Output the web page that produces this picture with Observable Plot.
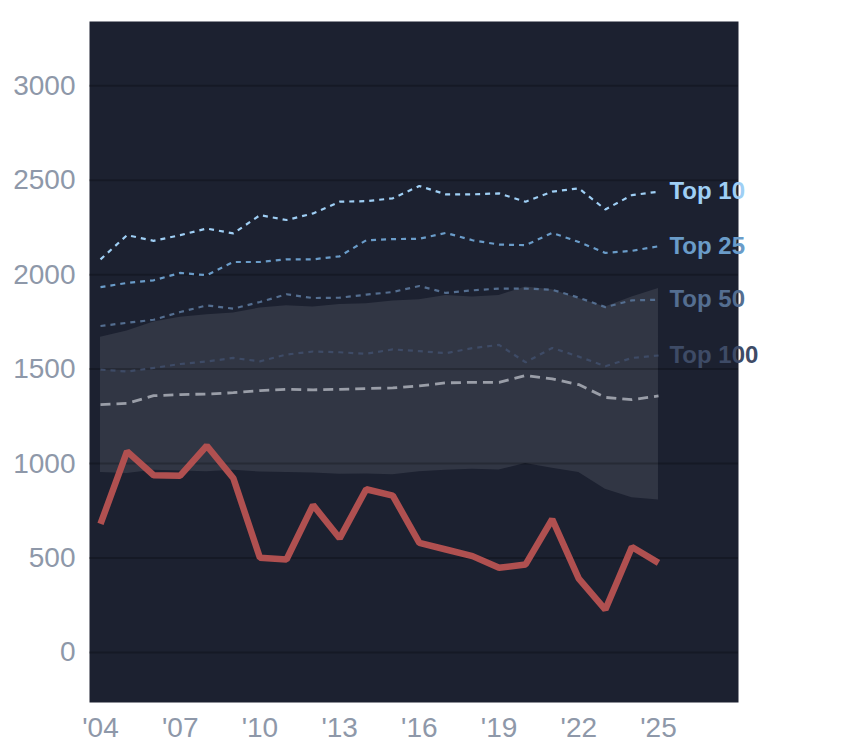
<!DOCTYPE html>
<html><head><meta charset="utf-8">
<script src="https://cdn.jsdelivr.net/npm/d3@7"></script>
<script src="https://cdn.jsdelivr.net/npm/@observablehq/plot@0.6"></script>
<style>body{margin:0;background:#fff}</style>
</head><body><div id="chart"></div>
<script>
const years = [2004,2005,2006,2007,2008,2009,2010,2011,2012,2013,2014,2015,2016,2017,2018,2019,2020,2021,2022,2023,2024,2025];
const flagship = [680,1064,938,936,1094,922,501,492,780,604,864,830,580,545,510,448,466,705,391,227,558,474];
const bandLow  = [952,947,965,961,957,965,955,952,950,943,945,940,957,965,970,966,1000,975,952,864,819,807];
const bandHigh = [1669,1701,1749,1775,1788,1797,1823,1835,1828,1842,1846,1860,1867,1890,1881,1890,1934,1920,1873,1828,1881,1926];
const top10  = [2081,2209,2179,2209,2244,2218,2315,2289,2324,2386,2389,2404,2469,2425,2425,2430,2386,2439,2457,2345,2421,2439];
const top25  = [1934,1956,1970,2009,1997,2067,2067,2081,2081,2097,2182,2188,2190,2221,2182,2159,2156,2221,2173,2115,2126,2150];
const top50  = [1728,1745,1761,1802,1837,1820,1855,1896,1876,1878,1894,1908,1940,1903,1917,1926,1926,1920,1878,1828,1864,1867];
const top100 = [1497,1487,1506,1527,1540,1559,1541,1577,1593,1589,1581,1604,1595,1584,1611,1628,1536,1612,1566,1515,1559,1572];
const median = [1312,1319,1359,1365,1368,1375,1386,1393,1390,1393,1397,1400,1411,1427,1430,1430,1466,1448,1418,1350,1338,1358];
const seriesNames = ["Top 10","Top 25","Top 50","Top 100"];
const seriesColors = ["#9fcff5","#6a9cc9","#546e90","#3e4b66"];
const yTicks = [0,500,1000,1500,2000,2500,3000];
const xTicks = [2004,2007,2010,2013,2016,2019,2022,2025];

const seriesValues = [top10, top25, top50, top100];
const band = years.map((y,i)=>({year:y, lo:bandLow[i], hi:bandHigh[i]}));
const red = years.map((y,i)=>({year:y, v:flagship[i]}));
const med = years.map((y,i)=>({year:y, v:median[i]}));
const series = seriesNames.map((name,k)=>years.map((y,i)=>({year:y, v:seriesValues[k][i], name})));
const ends = seriesNames.map((name,k)=>({year:years[years.length-1], v:seriesValues[k][years.length-1], name, color:seriesColors[k]}));

const chart = Plot.plot({
  width: 844,
  height: 748,
  marginTop: 21,
  marginBottom: 46,
  marginLeft: 89,
  marginRight: 106,
  style: {fontFamily: "Liberation Sans, Arial, sans-serif", color: "#8e98a9", background: "#fff", overflow: "visible"},
  x: {domain: [2003.586, 2028.011], axis: null},
  y: {domain: [-265, 3340], axis: null},
  marks: [
    Plot.frame({fill: "#1c2130", stroke: "none"}),
    Plot.areaY(band, {x: "year", y1: "lo", y2: "hi", fill: "#313644", curve: "linear"}),
    Plot.ruleY(yTicks, {stroke: "#000", strokeOpacity: 0.22, strokeWidth: 2}),
    Plot.axisY({ticks: yTicks, tickSize: 0, tickPadding: 14, fontSize: 28, label: null, fill: "#8e98a9", tickFormat: d => String(d)}),
    Plot.axisX({ticks: xTicks, tickSize: 0, tickPadding: 15, fontSize: 28, label: null, fill: "#8e98a9", tickFormat: d => "'" + String(d).slice(2)}),
    ...series.map((s,k)=>Plot.line(s, {x: "year", y: "v", stroke: seriesColors[k], strokeWidth: 2.2, strokeDasharray: "5,5", strokeLinecap: "butt", strokeLinejoin: "miter"})),
    Plot.line(med, {x: "year", y: "v", stroke: "#9a9ea8", strokeWidth: 2.8, strokeDasharray: "10,6", strokeLinecap: "butt", strokeLinejoin: "miter"}),
    Plot.line(red, {x: "year", y: "v", stroke: "#b05050", strokeWidth: 6.5, strokeLinecap: "butt", strokeLinejoin: "miter"}),
    Plot.text(ends, {x: "year", y: "v", text: "name", fill: "color", dx: 11, textAnchor: "start", lineAnchor: "middle", fontSize: 24, fontWeight: "bold"})
  ]
});
document.getElementById("chart").appendChild(chart);
</script>
</body></html>
